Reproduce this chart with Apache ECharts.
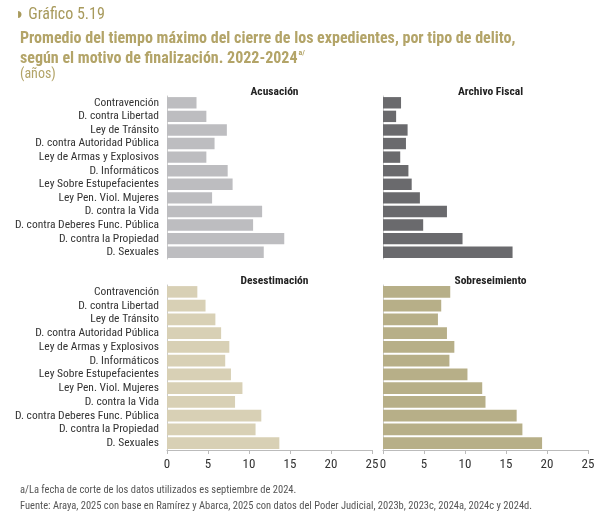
<!DOCTYPE html>
<html lang="es">
<head>
<meta charset="UTF-8">
<script src="https://cdn.jsdelivr.net/npm/echarts@6/dist/echarts.min.js"></script>
<style>
  body { margin: 0; background: #fff; font-family: "Roboto Condensed", "Liberation Sans Narrow", Roboto, sans-serif; }
  #chart { width: 600px; height: 522px; }
</style>
</head>
<body>
<div id="chart"></div>
<script>
// categorías y valores (años)
const categories = ['Contravención', 'D. contra Libertad', 'Ley de Tránsito', 'D. contra Autoridad Pública',
  'Ley de Armas y Explosivos', 'D. Informáticos', 'Ley Sobre Estupefacientes', 'Ley Pen. Viol. Mujeres',
  'D. contra la Vida', 'D. contra Deberes Func. Pública', 'D. contra la Propiedad', 'D. Sexuales'];
const acusacion      = [3.6, 4.8, 7.3, 5.8, 4.8, 7.4, 8.0, 5.5, 11.6, 10.5, 14.3, 11.8];
const archivoFiscal  = [2.2, 1.6, 3.0, 2.8, 2.1, 3.1, 3.5, 4.5, 7.8, 4.9, 9.7, 15.8];
const desestimacion  = [3.7, 4.7, 5.9, 6.6, 7.6, 7.1, 7.8, 9.2, 8.3, 11.5, 10.8, 13.7];
const sobreseimiento = [8.2, 7.1, 6.7, 7.8, 8.7, 8.1, 10.3, 12.1, 12.5, 16.3, 17.0, 19.4];
const xTicks = [0, 5, 10, 15, 20, 25];

const panels = [
  { name: 'Acusación', data: acusacion, color: '#bdbdc0' },
  { name: 'Archivo Fiscal', data: archivoFiscal, color: '#6a6a6d' },
  { name: 'Desestimación', data: desestimacion, color: '#d8d0b5' },
  { name: 'Sobreseimiento', data: sobreseimiento, color: '#b7af88' }
];
const gridPos = [
  { left: 167, top: 96, width: 205, height: 163 },
  { left: 383, top: 96, width: 205, height: 163 },
  { left: 167, top: 285, width: 205, height: 165 },
  { left: 383, top: 285, width: 205, height: 165 }
];
const font = '"Roboto Condensed", "Liberation Sans Narrow", Roboto, sans-serif';

const chart = echarts.init(document.getElementById('chart'));
const option = {
  animation: false,
  textStyle: { fontFamily: font },
  title: [
    { text: '◗ Gráfico 5.19', left: 10, top: 2, textStyle: { fontSize: 16, fontWeight: 'normal', color: '#a89a5c', fontFamily: font } },
    { text: 'Promedio del tiempo máximo del cierre de los expedientes, por tipo de delito,\nsegún el motivo de finalización. 2022-2024{s|a/}',
      left: 15, top: 24, textStyle: { fontSize: 16, fontWeight: 'bold', color: '#b3a468', lineHeight: 20, fontFamily: font,
        rich: { s: { fontSize: 8, verticalAlign: 'top', color: '#b3a468', padding: [0, 0, 8, 1] } } } },
    { text: '(años)', left: 15, top: 62, textStyle: { fontSize: 14, fontWeight: 'normal', color: '#b3a468', fontFamily: font } },
    { text: 'a/La fecha de corte de los datos utilizados es septiembre de 2024.\nFuente: Araya, 2025 con base en Ramírez y Abarca, 2025 con datos del Poder Judicial, 2023b, 2023c, 2024a, 2024c y 2024d.',
      left: 15, top: 477, textStyle: { fontSize: 10.5, fontWeight: 'normal', color: '#555', lineHeight: 16, fontFamily: font } }
  ].concat(panels.map((p, i) => ({
    text: p.name, left: gridPos[i].left + gridPos[i].width / 2, textAlign: 'center', top: gridPos[i].top - 15,
    textStyle: { fontSize: 11.5, fontWeight: 'bold', color: '#222', fontFamily: font }
  }))),
  grid: gridPos,
  xAxis: panels.map((p, i) => ({
    gridIndex: i, type: 'value', min: 0, max: 25, interval: 5,
    splitLine: { show: false },
    axisLine: { show: i >= 2, lineStyle: { color: '#bbb' } },
    axisTick: { show: i >= 2, length: 4, lineStyle: { color: '#bbb' } },
    axisLabel: { show: i >= 2, fontSize: 13, color: '#333', fontFamily: font,
      formatter: v => xTicks.includes(v) ? String(v) : '' }
  })),
  yAxis: panels.map((p, i) => ({
    gridIndex: i, type: 'category', data: categories, inverse: true,
    axisLine: { show: true, lineStyle: { color: '#ccc' } },
    axisTick: { show: false },
    axisLabel: { show: i % 2 === 0, interval: 0, fontSize: 11.5, color: '#333', margin: 8, fontFamily: font }
  })),
  series: panels.map((p, i) => ({
    type: 'bar', name: p.name, xAxisIndex: i, yAxisIndex: i, data: p.data,
    barCategoryGap: '16%', itemStyle: { color: p.color }
  }))
};
chart.setOption(option);
</script>
</body>
</html>
